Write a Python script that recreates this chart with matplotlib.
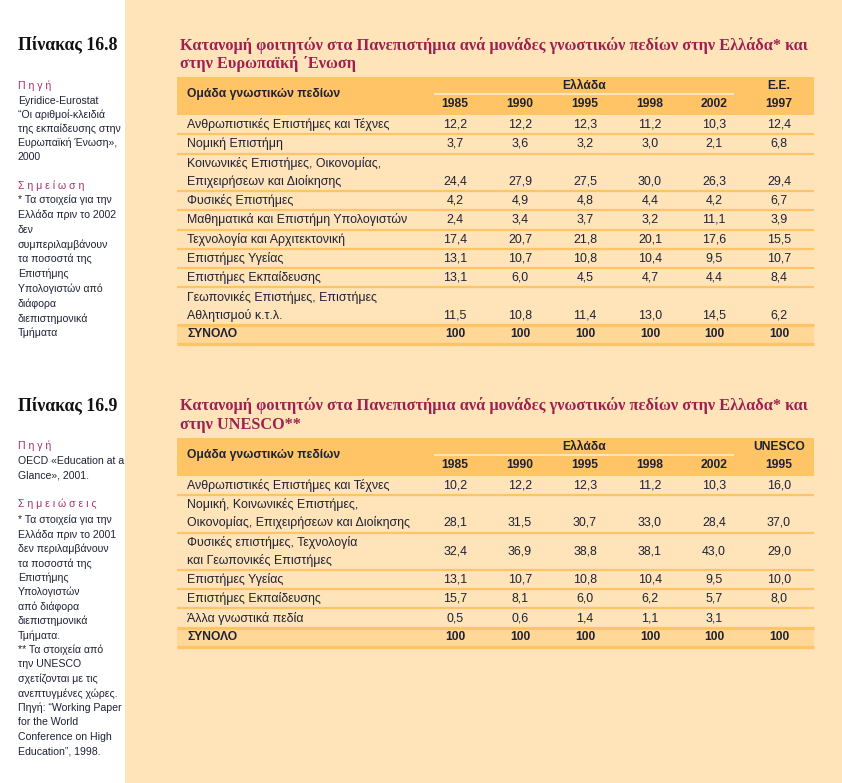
import matplotlib
matplotlib.use("Agg")
import matplotlib.pyplot as plt
from matplotlib.patches import Rectangle

# ---------------- DATA ----------------
years_gr = ["1985", "1990", "1995", "1998", "2002"]

t1_title = ["Κατανομή φοιτητών στα Πανεπιστήμια ανά μονάδες γνωστικών πεδίων στην Ελλάδα* και",
            "στην Ευρωπαϊκή ΄Ενωση"]
t1_ref_head = "Ε.Ε."
t1_ref_year = "1997"
t1_rows = ["Ανθρωπιστικές Επιστήμες και Τέχνες",
           "Νομική Επιστήμη",
           "Κοινωνικές Επιστήμες, Οικονομίας,\nΕπιχειρήσεων και Διοίκησης",
           "Φυσικές Επιστήμες",
           "Μαθηματικά και Επιστήμη Υπολογιστών",
           "Τεχνολογία και Αρχιτεκτονική",
           "Επιστήμες Υγείας",
           "Επιστήμες Εκπαίδευσης",
           "Γεωπονικές Επιστήμες, Επιστήμες\nΑθλητισμού κ.τ.λ."]
t1_1985 = [12.2, 3.7, 24.4, 4.2, 2.4, 17.4, 13.1, 13.1, 11.5]
t1_1990 = [12.2, 3.6, 27.9, 4.9, 3.4, 20.7, 10.7, 6.0, 10.8]
t1_1995 = [12.3, 3.2, 27.5, 4.8, 3.7, 21.8, 10.8, 4.5, 11.4]
t1_1998 = [11.2, 3.0, 30.0, 4.4, 3.2, 20.1, 10.4, 4.7, 13.0]
t1_2002 = [10.3, 2.1, 26.3, 4.2, 11.1, 17.6, 9.5, 4.4, 14.5]
t1_eu1997 = [12.4, 6.8, 29.4, 6.7, 3.9, 15.5, 10.7, 8.4, 6.2]
t1_total = [100, 100, 100, 100, 100, 100]

t2_title = ["Κατανομή φοιτητών στα Πανεπιστήμια ανά μονάδες γνωστικών πεδίων στην Ελλαδα* και",
            "στην UNESCO**"]
t2_ref_head = "UNESCO"
t2_ref_year = "1995"
t2_rows = ["Ανθρωπιστικές Επιστήμες και Τέχνες",
           "Νομική, Κοινωνικές Επιστήμες,\nΟικονομίας, Επιχειρήσεων και Διοίκησης",
           "Φυσικές επιστήμες, Τεχνολογία\nκαι Γεωπονικές Επιστήμες",
           "Επιστήμες Υγείας",
           "Επιστήμες Εκπαίδευσης",
           "Άλλα γνωστικά πεδία"]
t2_1985 = [10.2, 28.1, 32.4, 13.1, 15.7, 0.5]
t2_1990 = [12.2, 31.5, 36.9, 10.7, 8.1, 0.6]
t2_1995 = [12.3, 30.7, 38.8, 10.8, 6.0, 1.4]
t2_1998 = [11.2, 33.0, 38.1, 10.4, 6.2, 1.1]
t2_2002 = [10.3, 28.4, 43.0, 9.5, 5.7, 3.1]
t2_unesco1995 = [16.0, 37.0, 29.0, 10.0, 8.0, None]
t2_total = [100, 100, 100, 100, 100, 100]

side1_title = "Πίνακας 16.8"
side1_src = ["Eyridice-Eurostat", "“Οι αριθμοί-κλειδιά", "της εκπαίδευσης στην",
             "Ευρωπαϊκή Ένωση»,", "2000"]
side1_note_head = "Σ η μ ε ί ω σ η"
side1_notes = ["* Τα στοιχεία για την", "Ελλάδα πριν το 2002", "δεν", "συμπεριλαμβάνουν",
               "τα ποσοστά της", "Επιστήμης", "Υπολογιστών από", "διάφορα",
               "διεπιστημονικά", "Τμήματα"]
side2_title = "Πίνακας 16.9"
side2_src = ["OECD «Education at a", "Glance», 2001."]
side2_note_head = "Σ η μ ε ι ώ σ ε ι ς"
side2_notes = ["* Τα στοιχεία για την", "Ελλάδα πριν το 2001", "δεν περιλαμβάνουν",
               "τα ποσοστά της", "Επιστήμης", "Υπολογιστών", "από διάφορα",
               "διεπιστημονικά", "Τμήματα.", "** Τα στοιχεία από", "την UNESCO",
               "σχετίζονται με τις", "ανεπτυγμένες χώρες.", "Πηγή: “Working Paper",
               "for the World", "Conference on High", "Education”, 1998."]
src_head = "Π η γ ή"
group_head = "Ομάδα γνωστικών πεδίων"
greece_head = "Ελλάδα"
total_label = "ΣΥΝΟΛΟ"

# ---------------- STYLE ----------------
BG = "#FFE3B9"
HEAD = "#FFC466"
TOT = "#FFD796"
LINE = "#FFC466"
TXT = "#1E2235"
TITLE = "#9E1F50"
MAG = "#A8306A"
SANS = ["Liberation Sans", "DejaVu Sans"]
SERIF = ["Liberation Serif", "DejaVu Serif"]

fig = plt.figure(figsize=(8.42, 7.83), dpi=100)
ax = fig.add_axes([0, 0, 1, 1])
ax.set_xlim(0, 842)
ax.set_ylim(783, 0)
ax.axis("off")
fig.patch.set_facecolor("white")
ax.add_patch(Rectangle((125, 0), 717, 783, color=BG, zorder=0, lw=0))

X0, X1 = 177, 814
COLS = [455, 520, 585, 650, 714, 779]
LH = 18.0
PAD = 0.65
FS = 8.9
FSB = 8.7
FSS = 7.6


def fmt(v):
    if v is None:
        return ""
    if isinstance(v, int):
        return str(v)
    return f"{v:.1f}".replace(".", ",")


def hline(y, lw_px):
    ax.plot([X0, X1], [y, y], color=LINE, lw=lw_px * 0.72, solid_capstyle="butt", zorder=2)


def draw_table(title, ytitle, htop, ref_head, ref_year, rows, cols, total, centered):
    ax.text(180, ytitle, title[0], family=SERIF, weight="bold", fontsize=11.7,
            color=TITLE, va="center", ha="left")
    ax.text(180, ytitle + 19, title[1], family=SERIF, weight="bold", fontsize=11.7,
            color=TITLE, va="center", ha="left")
    hb = htop + 38
    ax.add_patch(Rectangle((X0, htop), X1 - X0, hb - htop, color=HEAD, lw=0, zorder=1))
    ax.text(187, htop + 17, group_head, family=SANS, weight="bold", fontsize=FSB,
            color=TXT, va="center", ha="left")
    ax.text((COLS[0] + COLS[4]) / 2, htop + 9, greece_head, family=SANS, weight="bold",
            fontsize=FSB, color=TXT, va="center", ha="center")
    ax.plot([435, 733], [htop + 17, htop + 17], color=BG, lw=1.5, zorder=2)
    ax.text(COLS[5], htop + 9, ref_head, family=SANS, weight="bold", fontsize=FSB,
            color=TXT, va="center", ha="center")
    for x, yr in zip(COLS, years_gr + [ref_year]):
        ax.text(x, htop + 27, yr, family=SANS, weight="bold", fontsize=FSB,
                color=TXT, va="center", ha="center")
    y = hb
    for i, lab in enumerate(rows):
        lines = lab.split("\n")
        n = len(lines)
        h = 2 * PAD + n * LH
        for k, ln in enumerate(lines):
            ax.text(187, y + PAD + (k + 0.5) * LH, ln, family=SANS, fontsize=FS,
                    color=TXT, va="center", ha="left")
        if centered[i]:
            yv = y + h / 2
        else:
            yv = y + PAD + (n - 0.5) * LH
        for x, col in zip(COLS, cols):
            ax.text(x, yv, fmt(col[i]), family=SANS, fontsize=FS, color=TXT,
                    va="center", ha="center")
        y += h
        if i < len(rows) - 1:
            hline(y, 2.2)
    # total row
    h = 2 * PAD + LH
    ax.add_patch(Rectangle((X0, y), X1 - X0, h, color=TOT, lw=0, zorder=1))
    hline(y, 3.2)
    hline(y + h, 3.2)
    ax.text(187, y + h / 2, total_label, family=SANS, weight="bold", fontsize=FSB,
            color=TXT, va="center", ha="left")
    for x, v in zip(COLS, total):
        ax.text(x, y + h / 2, fmt(v), family=SANS, weight="bold", fontsize=FSB,
                color=TXT, va="center", ha="center")


def draw_side(title, ytitle, ysrc, src, ynote_head, note_head, ynote, notes, step):
    ax.text(18, ytitle, title, family=SERIF, weight="bold", fontsize=12.8,
            color="#111111", va="center", ha="left")
    ax.text(18, ysrc, src_head, family=SANS, fontsize=FSS, color=MAG, va="center", ha="left")
    for i, s in enumerate(src):
        ax.text(18, ysrc + 15 + i * 14.0, s, family=SANS, fontsize=FSS, color=TXT,
                va="center", ha="left")
    ax.text(18, ynote_head, note_head, family=SANS, fontsize=FSS, color=MAG,
            va="center", ha="left")
    for i, s in enumerate(notes):
        ax.text(18, ynote + i * step, s, family=SANS, fontsize=FSS, color=TXT,
                va="center", ha="left")


draw_table(t1_title, 45, 77, t1_ref_head, t1_ref_year, t1_rows,
           [t1_1985, t1_1990, t1_1995, t1_1998, t1_2002, t1_eu1997], t1_total,
           [False] * len(t1_rows))
draw_table(t2_title, 406, 438, t2_ref_head, t2_ref_year, t2_rows,
           [t2_1985, t2_1990, t2_1995, t2_1998, t2_2002, t2_unesco1995], t2_total,
           [False, False, True, False, False, False])

draw_side(side1_title, 44, 86, side1_src, 186, side1_note_head, 200, side1_notes, 14.8)
draw_side(side2_title, 405, 446, side2_src, 504, side2_note_head, 520, side2_notes, 14.44)

fig.savefig("out.png", dpi=100)
